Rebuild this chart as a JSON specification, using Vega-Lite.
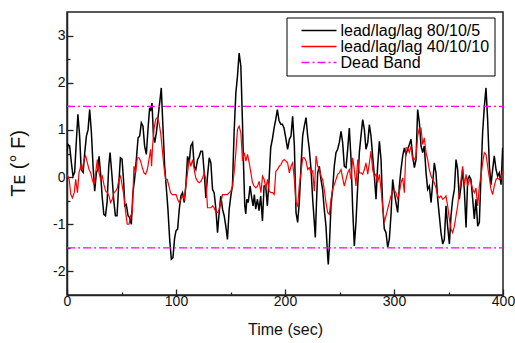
{
  "$schema": "https://vega.github.io/schema/vega-lite/v6.json",
  "width": 436,
  "height": 283,
  "autosize": {"type": "none"},
  "padding": {"left": 67, "top": 12, "right": 12, "bottom": 48},
  "background": "white",
  "datasets": {
    "a": [
      {"t":0,"v":0.55},{"t":1,"v":0.69},{"t":2.4,"v":0.66},{"t":4,"v":0.31},{"t":5.5,"v":0.02},{"t":7,"v":0.1},{"t":8.5,"v":0.73},{"t":10,"v":1.33},{"t":11.6,"v":0.87},{"t":13,"v":0.16},{"t":14.8,"v":0.1},{"t":16.3,"v":0.52},{"t":17.8,"v":0.87},{"t":19.3,"v":1.0},{"t":20.8,"v":1.43},{"t":22.4,"v":0.94},{"t":23.9,"v":0.23},{"t":25.4,"v":-0.3},{"t":27,"v":0.1},{"t":28.4,"v":0.16},{"t":29.4,"v":0.44},{"t":31,"v":0.02},{"t":32.2,"v":-0.4},{"t":33.8,"v":-0.79},{"t":35.3,"v":-0.82},{"t":36.8,"v":-0.53},{"t":38.3,"v":0.23},{"t":39.5,"v":0.52},{"t":41.3,"v":0.02},{"t":42.8,"v":-0.47},{"t":44.4,"v":-0.82},{"t":45.9,"v":-0.82},{"t":47.4,"v":-0.19},{"t":49,"v":0.41},{"t":50.5,"v":0.38},{"t":52,"v":-0.11},{"t":53,"v":-0.61},{"t":54.4,"v":-0.58},{"t":56,"v":-0.82},{"t":57.5,"v":-0.86},{"t":59,"v":-1.0},{"t":60.5,"v":-0.33},{"t":62,"v":-0.05},{"t":63.6,"v":0.37},{"t":65.2,"v":0.83},{"t":66.7,"v":0.87},{"t":68.2,"v":1.15},{"t":69.7,"v":1.08},{"t":71.2,"v":0.66},{"t":72.8,"v":0.48},{"t":74.3,"v":1.01},{"t":75.8,"v":1.47},{"t":76.7,"v":1.4},{"t":78,"v":1.57},{"t":79.3,"v":0.87},{"t":80.5,"v":0.73},{"t":82,"v":0.94},{"t":83.5,"v":1.26},{"t":85,"v":1.57},{"t":86.5,"v":1.89},{"t":88,"v":1.08},{"t":89.6,"v":0.23},{"t":91,"v":-0.19},{"t":92.6,"v":-0.68},{"t":94.2,"v":-1.32},{"t":95.7,"v":-1.74},{"t":97.2,"v":-1.71},{"t":98.7,"v":-1.3},{"t":100,"v":-1.14},{"t":101.5,"v":-1.1},{"t":103,"v":-0.68},{"t":104.5,"v":-0.4},{"t":106,"v":-0.33},{"t":107.6,"v":-0.54},{"t":109,"v":-0.19},{"t":110.6,"v":0.44},{"t":112.1,"v":0.3},{"t":113.6,"v":0.66},{"t":115.2,"v":0.73},{"t":116.7,"v":0.23},{"t":118.2,"v":0.16},{"t":119.8,"v":0.37},{"t":121.3,"v":0.44},{"t":122.8,"v":0.55},{"t":124.3,"v":0.55},{"t":125.9,"v":0.09},{"t":127.4,"v":-0.44},{"t":128.9,"v":0.02},{"t":130.5,"v":0.41},{"t":132,"v":0.3},{"t":133.5,"v":-0.26},{"t":135,"v":-0.33},{"t":136.6,"v":-0.68},{"t":138.1,"v":-1.18},{"t":139.6,"v":-0.75},{"t":141.1,"v":-0.4},{"t":142.7,"v":-0.68},{"t":144.2,"v":-0.82},{"t":145.7,"v":-1.04},{"t":147.2,"v":-1.32},{"t":148.8,"v":-0.68},{"t":150.3,"v":-0.4},{"t":151.8,"v":-0.19},{"t":153.3,"v":0.94},{"t":154.9,"v":1.78},{"t":156.4,"v":2.14},{"t":157.9,"v":2.63},{"t":159.5,"v":2.35},{"t":161,"v":1.15},{"t":161.9,"v":0.3},{"t":163.1,"v":-0.61},{"t":164,"v":-0.78},{"t":165,"v":-0.47},{"t":166.2,"v":-0.54},{"t":168,"v":-0.19},{"t":169.2,"v":-0.4},{"t":170.7,"v":-0.61},{"t":171.9,"v":-0.37},{"t":173.1,"v":-0.68},{"t":174.7,"v":-0.47},{"t":176.2,"v":-0.71},{"t":177.7,"v":-0.4},{"t":179.3,"v":-0.93},{"t":180.8,"v":-0.19},{"t":182.3,"v":-0.19},{"t":183.8,"v":-0.61},{"t":185.4,"v":-0.05},{"t":186.9,"v":0.62},{"t":188.4,"v":0.8},{"t":190,"v":1.04},{"t":191.5,"v":1.22},{"t":193,"v":1.43},{"t":194.5,"v":1.2},{"t":196.1,"v":1.12},{"t":197.6,"v":1.12},{"t":199.1,"v":1.04},{"t":200.9,"v":0.8},{"t":202.4,"v":0.59},{"t":204,"v":0.8},{"t":205.5,"v":0.87},{"t":207,"v":1.29},{"t":208.6,"v":0.66},{"t":210.1,"v":-0.75},{"t":211.6,"v":-0.96},{"t":213.1,"v":-0.54},{"t":214.7,"v":0.23},{"t":216.2,"v":0.87},{"t":217.7,"v":1.08},{"t":219.3,"v":1.26},{"t":220.8,"v":0.87},{"t":222.3,"v":0.59},{"t":223.9,"v":0.16},{"t":225.4,"v":-0.47},{"t":226.9,"v":-0.96},{"t":227.8,"v":-1.28},{"t":229,"v":-0.47},{"t":230,"v":0.09},{"t":231.5,"v":0.23},{"t":233,"v":-0.05},{"t":234.5,"v":-0.26},{"t":236,"v":-0.68},{"t":237.6,"v":-1.04},{"t":239.1,"v":-1.67},{"t":239.7,"v":-1.85},{"t":240.7,"v":-1.46},{"t":242.2,"v":-0.61},{"t":243.7,"v":-0.26},{"t":245.2,"v":0.23},{"t":246.8,"v":0.52},{"t":248.3,"v":0.59},{"t":249.8,"v":0.73},{"t":251.4,"v":0.97},{"t":252.9,"v":0.73},{"t":254.4,"v":0.23},{"t":256,"v":0.2},{"t":257.5,"v":0.59},{"t":259,"v":1.04},{"t":260.6,"v":0.37},{"t":262.1,"v":-0.68},{"t":263.6,"v":-1.46},{"t":265.1,"v":-0.96},{"t":266.7,"v":-0.19},{"t":268.2,"v":0.52},{"t":269.7,"v":0.87},{"t":271.3,"v":1.22},{"t":272.8,"v":1.01},{"t":274.3,"v":0.59},{"t":275.9,"v":0.73},{"t":277.4,"v":1.11},{"t":278.9,"v":0.87},{"t":280.4,"v":0.45},{"t":282,"v":0.02},{"t":283.5,"v":-0.47},{"t":285,"v":0.23},{"t":286.6,"v":0.76},{"t":288.1,"v":0.37},{"t":289.6,"v":-0.61},{"t":291.1,"v":-1.1},{"t":292.7,"v":-1.18},{"t":294.2,"v":-1.49},{"t":295.7,"v":-1.32},{"t":297.2,"v":-0.82},{"t":298.8,"v":-0.05},{"t":300.3,"v":-0.33},{"t":301.8,"v":-0.54},{"t":303.4,"v":-0.75},{"t":304.9,"v":-0.19},{"t":306.4,"v":0.16},{"t":308,"v":0.45},{"t":309.5,"v":0.62},{"t":311,"v":0.48},{"t":312.5,"v":0.59},{"t":314.1,"v":0.69},{"t":315.6,"v":0.8},{"t":317.1,"v":0.45},{"t":318.7,"v":0.2},{"t":320.2,"v":0.37},{"t":321.7,"v":1.43},{"t":323.3,"v":1.15},{"t":324.8,"v":0.66},{"t":326.3,"v":0.52},{"t":327.8,"v":0.66},{"t":329.4,"v":0.09},{"t":330.9,"v":-0.26},{"t":332.4,"v":-0.19},{"t":334,"v":-0.54},{"t":335.5,"v":-0.12},{"t":337,"v":0.3},{"t":338.5,"v":0.09},{"t":340.1,"v":-0.47},{"t":341.6,"v":-0.82},{"t":343.1,"v":-1.18},{"t":344.7,"v":-1.42},{"t":346.2,"v":-1.32},{"t":347.7,"v":-0.61},{"t":349.2,"v":-1.04},{"t":350.8,"v":-1.42},{"t":352.3,"v":-0.82},{"t":353.8,"v":-0.47},{"t":355.4,"v":-0.26},{"t":356.9,"v":0.37},{"t":358.4,"v":0.16},{"t":359.9,"v":-0.47},{"t":361.5,"v":-0.19},{"t":363,"v":0.16},{"t":364.5,"v":-0.26},{"t":366.1,"v":-1.07},{"t":367.6,"v":-0.05},{"t":369.1,"v":0.02},{"t":370.6,"v":-0.05},{"t":372.2,"v":-0.47},{"t":373.7,"v":-0.89},{"t":375.2,"v":-0.47},{"t":376.8,"v":-1.04},{"t":378.3,"v":-0.96},{"t":379.8,"v":0.02},{"t":381.3,"v":0.94},{"t":382.9,"v":1.5},{"t":384.4,"v":1.89},{"t":385.9,"v":1.22},{"t":387.5,"v":0.23},{"t":389,"v":-0.16},{"t":390.5,"v":0.16},{"t":392,"v":0.45},{"t":393.6,"v":0.16},{"t":395.1,"v":0.02},{"t":396.6,"v":0.09},{"t":398.2,"v":-0.16},{"t":399.7,"v":0.62}
    ],
    "b": [
      {"t":0,"v":0.06},{"t":2,"v":-0.05},{"t":3.5,"v":-0.37},{"t":5,"v":-0.44},{"t":6.6,"v":-0.33},{"t":8,"v":-0.05},{"t":9.6,"v":-0.33},{"t":11,"v":0.09},{"t":12.6,"v":0.23},{"t":14,"v":0.16},{"t":15.6,"v":0.37},{"t":17.1,"v":0.45},{"t":18.7,"v":0.3},{"t":20.2,"v":0.16},{"t":21.7,"v":0.09},{"t":23.2,"v":-0.05},{"t":24.8,"v":-0.16},{"t":26.3,"v":0.09},{"t":27.8,"v":0.37},{"t":29.4,"v":0.09},{"t":30.9,"v":-0.05},{"t":32.4,"v":0.02},{"t":33.9,"v":-0.16},{"t":35.5,"v":-0.3},{"t":37,"v":-0.33},{"t":38.5,"v":-0.4},{"t":40,"v":-0.54},{"t":41.6,"v":-0.47},{"t":43.1,"v":-0.33},{"t":44.6,"v":-0.3},{"t":46.2,"v":-0.23},{"t":47.7,"v":-0.05},{"t":49.2,"v":0.02},{"t":50.7,"v":-0.19},{"t":52.3,"v":-0.4},{"t":53.8,"v":-0.75},{"t":55.3,"v":-1.0},{"t":56.9,"v":-1.0},{"t":58.4,"v":-0.82},{"t":59.9,"v":-0.75},{"t":61.4,"v":0.23},{"t":63,"v":0.09},{"t":64.5,"v":0.41},{"t":66,"v":0.41},{"t":67.5,"v":0.34},{"t":69.1,"v":0.2},{"t":70.6,"v":0.09},{"t":72.1,"v":0.06},{"t":73.7,"v":0.16},{"t":75.2,"v":0.37},{"t":76.7,"v":0.59},{"t":77.6,"v":0.23},{"t":78.5,"v":0.66},{"t":79.8,"v":1.01},{"t":81.3,"v":1.22},{"t":82.8,"v":1.26},{"t":84.4,"v":1.15},{"t":85.9,"v":0.94},{"t":87.4,"v":0.59},{"t":88.9,"v":0.23},{"t":90.5,"v":-0.05},{"t":92,"v":-0.05},{"t":93.5,"v":-0.19},{"t":95,"v":-0.33},{"t":96.6,"v":-0.37},{"t":98.1,"v":-0.37},{"t":100,"v":-0.37},{"t":101.5,"v":-0.47},{"t":103,"v":-0.54},{"t":104.5,"v":-0.47},{"t":106,"v":-0.4},{"t":107.6,"v":-0.47},{"t":109,"v":-0.19},{"t":110.6,"v":0.09},{"t":112.1,"v":0.37},{"t":113.6,"v":0.23},{"t":115.2,"v":0.37},{"t":116.7,"v":0.16},{"t":118.2,"v":-0.02},{"t":119.8,"v":-0.09},{"t":121.3,"v":-0.12},{"t":122.8,"v":-0.09},{"t":124.3,"v":-0.02},{"t":125.9,"v":0.09},{"t":127.4,"v":-0.05},{"t":128.9,"v":-0.65},{"t":130.5,"v":-0.65},{"t":132,"v":-0.65},{"t":133.5,"v":-0.61},{"t":135,"v":-0.65},{"t":136.6,"v":-0.75},{"t":138.1,"v":-0.75},{"t":139.6,"v":-0.68},{"t":141.1,"v":-0.54},{"t":142.7,"v":-0.37},{"t":144.2,"v":-0.37},{"t":145.7,"v":-0.37},{"t":147.2,"v":-0.37},{"t":148.8,"v":-0.33},{"t":150.3,"v":-0.3},{"t":151.8,"v":-0.19},{"t":153.3,"v":0.09},{"t":154.9,"v":0.52},{"t":156.4,"v":1.01},{"t":157.9,"v":1.08},{"t":159.5,"v":0.94},{"t":161,"v":0.34},{"t":162.6,"v":0.52},{"t":164.1,"v":0.34},{"t":165.6,"v":0.48},{"t":167.2,"v":0.3},{"t":168.7,"v":0.09},{"t":170.2,"v":-0.12},{"t":171.7,"v":-0.19},{"t":173.3,"v":-0.23},{"t":174.8,"v":-0.19},{"t":176.3,"v":-0.09},{"t":177.9,"v":-0.33},{"t":179.4,"v":0.02},{"t":180.9,"v":-0.05},{"t":182.4,"v":-0.23},{"t":184,"v":-0.05},{"t":185.5,"v":-0.3},{"t":187,"v":-0.33},{"t":188.6,"v":-0.33},{"t":190.1,"v":-0.37},{"t":191.6,"v":0.12},{"t":193.1,"v":0.16},{"t":194.7,"v":0.23},{"t":196.2,"v":0.26},{"t":197.7,"v":0.34},{"t":199.3,"v":0.37},{"t":200.9,"v":0.34},{"t":202.4,"v":0.3},{"t":204,"v":0.09},{"t":205.5,"v":0.23},{"t":207,"v":0.3},{"t":208.6,"v":-0.05},{"t":210.1,"v":-0.54},{"t":211.6,"v":-0.61},{"t":213.1,"v":-0.19},{"t":214.7,"v":0.09},{"t":216.2,"v":0.41},{"t":217.7,"v":0.41},{"t":219.3,"v":0.34},{"t":220.8,"v":0.16},{"t":222.3,"v":0.2},{"t":223.9,"v":0.09},{"t":225.4,"v":0.13},{"t":226.9,"v":-0.3},{"t":228.5,"v":0.45},{"t":230,"v":0.23},{"t":231.5,"v":0.16},{"t":233,"v":0.02},{"t":234.5,"v":-0.05},{"t":236,"v":-0.26},{"t":237.6,"v":-0.54},{"t":239.1,"v":-0.75},{"t":240.7,"v":-0.79},{"t":242.2,"v":-0.47},{"t":243.7,"v":-0.26},{"t":245.2,"v":-0.16},{"t":246.8,"v":-0.05},{"t":248.3,"v":0.06},{"t":249.8,"v":0.09},{"t":251.4,"v":0.16},{"t":252.9,"v":-0.02},{"t":254.4,"v":-0.19},{"t":256,"v":-0.05},{"t":257.5,"v":0.09},{"t":259,"v":0.16},{"t":260.6,"v":-0.05},{"t":262.1,"v":0.41},{"t":263.6,"v":0.16},{"t":265.1,"v":-0.19},{"t":266.7,"v":0.37},{"t":268.2,"v":0.09},{"t":269.7,"v":0.09},{"t":271.3,"v":0.06},{"t":272.8,"v":0.16},{"t":274.3,"v":0.3},{"t":275.9,"v":0.06},{"t":277.4,"v":0.3},{"t":278.9,"v":0.55},{"t":280.4,"v":0.16},{"t":282,"v":0.02},{"t":283.5,"v":0.06},{"t":285,"v":-0.12},{"t":286.6,"v":0.06},{"t":288.1,"v":-0.26},{"t":289.6,"v":-0.61},{"t":291.1,"v":-0.96},{"t":292.7,"v":-0.82},{"t":294.2,"v":-0.68},{"t":295.7,"v":-0.54},{"t":297.2,"v":-0.4},{"t":298.8,"v":-0.3},{"t":300.3,"v":-0.28},{"t":301.8,"v":-0.33},{"t":303.4,"v":-0.47},{"t":304.9,"v":-0.33},{"t":306.4,"v":-0.12},{"t":308,"v":-0.02},{"t":309.5,"v":-0.33},{"t":311,"v":0.62},{"t":312.5,"v":0.62},{"t":314.1,"v":0.52},{"t":315.6,"v":0.66},{"t":317.1,"v":0.37},{"t":318.7,"v":0.37},{"t":320.2,"v":0.45},{"t":321.7,"v":0.87},{"t":323.3,"v":1.04},{"t":324.8,"v":1.04},{"t":326.3,"v":0.69},{"t":327.8,"v":0.83},{"t":329.4,"v":0.52},{"t":330.9,"v":0.37},{"t":332.4,"v":0.16},{"t":334,"v":0.02},{"t":335.5,"v":-0.05},{"t":337,"v":-0.12},{"t":338.5,"v":-0.23},{"t":340.1,"v":-0.4},{"t":341.6,"v":-0.44},{"t":343.1,"v":-0.4},{"t":344.7,"v":-0.47},{"t":346.2,"v":-0.44},{"t":347.7,"v":-0.4},{"t":349.2,"v":-0.61},{"t":350.8,"v":-0.89},{"t":352.3,"v":-1.1},{"t":353.8,"v":-1.18},{"t":355.4,"v":-1.04},{"t":356.9,"v":-0.82},{"t":358.4,"v":-0.61},{"t":359.9,"v":-0.3},{"t":361.5,"v":-0.05},{"t":363,"v":0.23},{"t":364.5,"v":-0.19},{"t":366.1,"v":0.06},{"t":367.6,"v":-0.19},{"t":369.1,"v":-0.05},{"t":370.6,"v":-0.12},{"t":372.2,"v":-0.26},{"t":373.7,"v":-0.33},{"t":375.2,"v":-0.23},{"t":376.8,"v":-0.61},{"t":378.3,"v":-0.19},{"t":379.8,"v":0.02},{"t":381.3,"v":0.3},{"t":382.9,"v":0.52},{"t":384.4,"v":0.48},{"t":385.9,"v":0.23},{"t":387.5,"v":-0.02},{"t":389,"v":-0.26},{"t":390.5,"v":-0.37},{"t":392,"v":-0.19},{"t":393.6,"v":-0.05},{"t":395.1,"v":-0.02},{"t":396.6,"v":-0.05},{"t":398.2,"v":-0.02},{"t":399.7,"v":0.12}
    ],
    "band": [
      {"t":0,"v":1.5,"g":"upper"},{"t":400,"v":1.5,"g":"upper"},
      {"t":0,"v":-1.5,"g":"lower"},{"t":400,"v":-1.5,"g":"lower"}
    ]
  },
  "encoding": {
    "x": {
      "field": "t", "type": "quantitative",
      "scale": {"domain": [0, 400], "nice": false, "zero": false},
      "axis": {
        "title": "Time (sec)",
        "values": [0, 50, 100, 150, 200, 250, 300, 350, 400],
        "labelExpr": "datum.value % 100 === 0 ? '' + datum.value : ''",
        "tickSize": {"condition": {"test": "datum.value % 100 !== 0", "value": -3}, "value": -6},
        "labelPadding": 5,
        "labelFlush": false,
        "titlePadding": 13
      }
    },
    "y": {
      "field": "v", "type": "quantitative",
      "scale": {"domain": [-2.5, 3.5], "nice": false, "zero": false},
      "axis": {
        "title": "Tᴇ  (° F)",
        "values": [-2, -1.5, -1, -0.5, 0, 0.5, 1, 1.5, 2, 2.5, 3],
        "labelExpr": "datum.value % 1 === 0 ? '' + datum.value : ''",
        "tickSize": {"condition": {"test": "datum.value % 1 !== 0", "value": -3}, "value": -6},
        "labelPadding": 8,
        "titleFontSize": 20,
        "titleAlign": "center",
        "titleAngle": -90,
        "titleBaseline": "bottom",
        "titleX": -39,
        "titleY": 151
      }
    }
  },
  "layer": [
    {
      "data": {"name": "a"},
      "mark": {"type": "line", "strokeWidth": 1.5, "clip": true},
      "encoding": {
        "color": {
          "datum": "lead/lag/lag 80/10/5",
          "scale": {"domain": ["lead/lag/lag 80/10/5", "lead/lag/lag 40/10/10", "Dead Band"], "range": ["#000000", "#ff0000", "#ff00ff"]},
          "legend": {
            "title": null, "orient": "none", "legendX": 219.5, "legendY": 5.5,
            "strokeColor": "#000", "padding": 5, "symbolType": "M-3.5,0H3.5", "symbolSize": 100,
            "symbolStrokeWidth": 1.4, "symbolOffset": 19.5, "labelOffset": 13.5, "labelFontSize": 16,
            "labelFont": "Liberation Sans", "labelColor": "#000", "rowPadding": 0, "labelLimit": 300
          }
        },
        "strokeDash": {
          "datum": "lead/lag/lag 80/10/5",
          "scale": {"domain": ["lead/lag/lag 80/10/5", "lead/lag/lag 40/10/10", "Dead Band"], "range": [[1, 0], [1, 0], [8, 3, 2, 3]]},
          "legend": null
        }
      }
    },
    {
      "data": {"name": "b"},
      "mark": {"type": "line", "strokeWidth": 1.2, "clip": true},
      "encoding": {
        "color": {"datum": "lead/lag/lag 40/10/10"},
        "strokeDash": {"datum": "lead/lag/lag 40/10/10", "legend": null}
      }
    },
    {
      "data": {"name": "band"},
      "mark": {"type": "line", "strokeWidth": 1.2, "clip": true},
      "encoding": {
        "detail": {"field": "g"},
        "color": {"datum": "Dead Band"},
        "strokeDash": {"datum": "Dead Band", "legend": null}
      }
    }
  ],
  "config": {
    "view": {"stroke": "#222", "strokeWidth": 1.5},
    "axis": {
      "grid": false,
      "domainColor": "#222", "domainWidth": 1.5,
      "tickColor": "#222", "tickWidth": 1.3,
      "labelFont": "Liberation Sans", "labelFontSize": 14, "labelColor": "#111",
      "titleFont": "Liberation Sans", "titleFontSize": 16, "titleFontWeight": "normal", "titleColor": "#111"
    }
  }
}
